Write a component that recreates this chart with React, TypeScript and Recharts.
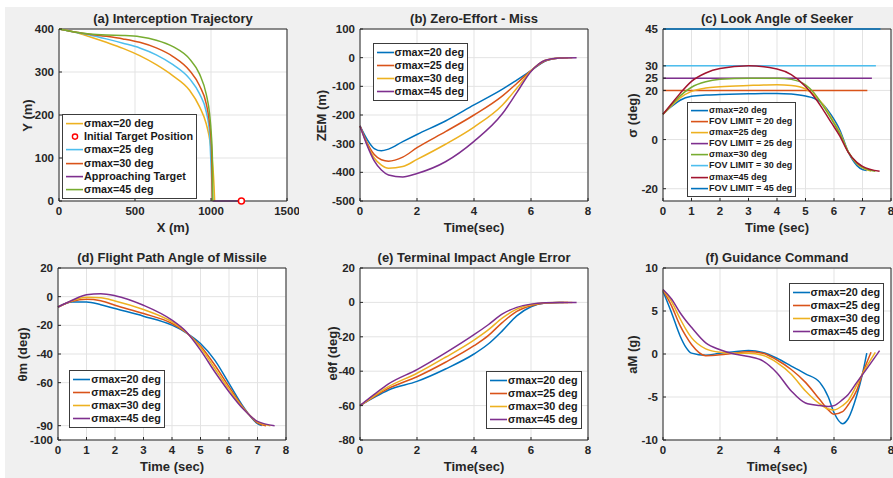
import { LineChart, Line, XAxis, YAxis, CartesianGrid, Legend, ReferenceLine } from 'recharts'

const FONT = '"Liberation Sans", Arial, Helvetica, sans-serif'
const AXIS = '#262626'
const GRID = '#e3e3e3'

// MATLAB default line colours
const BLUE = '#0072BD'
const ORANGE = '#D95319'
const YELLOW = '#EDB120'
const PURPLE = '#7E2F8E'
const GREEN = '#77AC30'
const CYAN = '#4DBEEE'
const WINE = '#A2142F'

const SIGMA = ['σmax=20 deg', 'σmax=25 deg', 'σmax=30 deg', 'σmax=45 deg']
const END_T = [7.15, 7.3, 7.45, 7.6]

// (a) trajectories, X (m) / Y (m)
const TRAJ_X20 = [0, 114, 202, 311, 421, 531, 640, 750, 860, 925, 969, 996, 1013, 1020, 1024]
const TRAJ_Y20 = [400, 392, 382, 369, 355, 338, 317, 291, 257, 219, 179, 133, 78, 35, 0]
const TRAJ_X25 = [0, 114, 202, 311, 421, 531, 640, 750, 860, 925, 969, 991, 998, 1005, 1010]
const TRAJ_Y25 = [400, 392, 386, 377, 367, 356, 340, 317, 284, 249, 207, 156, 102, 50, 0]
const TRAJ_X30 = [0, 114, 202, 311, 421, 531, 640, 750, 860, 925, 969, 991, 1002, 1006, 1008]
const TRAJ_Y30 = [400, 392.5, 388, 383, 377, 369, 356, 336, 303, 268, 226, 179, 133, 70, 0]
const TRAJ_X45 = [0, 114, 202, 311, 421, 531, 640, 750, 860, 925, 969, 991, 1002, 1009, 1012]
const TRAJ_Y45 = [400, 392.5, 388.5, 386, 385, 382, 374, 359, 330, 295, 248, 202, 156, 102, 0]
const TARGET_X = [1010, 1200]
const TARGET_Y = [0, 0]
const TARGET_START_X = [1200]
const TARGET_START_Y = [0]

// (b) zero-effort miss (m)
const ZEM_T = [0, 0.25, 0.5, 0.75, 1, 1.5, 2, 3, 4, 5, 5.5, 6, 6.5, 7]
const ZEM_20 = [-238, -285, -317, -325, -319, -293, -268, -221, -165, -110, -78, -45, -12, -1]
const ZEM_25 = [-238, -297, -338, -356, -361, -347, -314, -258, -200, -133, -90, -45, -11, -1]
const ZEM_30 = [-238, -302, -350, -375, -386, -380, -355, -302, -242, -165, -107, -46, -9, -1]
const ZEM_45 = [-238, -306, -360, -392, -409, -416, -404, -363, -292, -195, -122, -48, -9, -1]
const ZEM_END = [0, 0, 0, 0]

// (c) look angle of seeker (deg)
const LOOK_T = [0, 0.3, 0.6, 1, 1.5, 2, 3, 4, 4.5, 5, 5.3, 5.6, 5.9, 6.2, 6.5, 6.8, 7]
const LOOK_20 = [10.3, 13.5, 16, 17.6, 18.1, 18.3, 18.6, 18.8, 18.5, 17.7, 16.8, 14.5, 10, 4, -5, -10.5, -12.2]
const LOOK_25 = [10.3, 13.8, 17, 19.6, 21, 21.5, 22, 22.3, 22, 20.6, 18.3, 14.5, 9, 3, -5, -9.8, -11.5]
const LOOK_30 = [10.3, 14.2, 17.8, 21.3, 23.5, 24.5, 25, 25, 24.5, 22.3, 19, 14, 8.5, 2.5, -5, -9.5, -11.2]
const LOOK_45 = [10.3, 14.6, 18.8, 23.7, 27.1, 28.9, 30, 28.7, 26.4, 21.6, 17.5, 12.5, 7, 1.5, -5.2, -9.3, -10.9]
const LOOK_END = [-12.6, -12.8, -12.9, -12.9]
const FOV_LIMIT = [20, 25, 30, 45]
const FOV_END_T = [7.17, 7.33, 7.47, 7.63]

// (d) flight path angle of missile (deg)
const FPA_T = [0, 0.5, 1, 1.5, 2, 3, 4, 4.5, 5, 5.5, 6, 6.5, 7]
const FPA_20 = [-7.2, -3.7, -3.7, -5.6, -8.3, -13.6, -19.9, -25.2, -32.7, -44.3, -60.5, -76.7, -88.6]
const FPA_25 = [-7.2, -3.2, -1.8, -2.8, -6, -11.8, -18.7, -25, -34.5, -47.7, -62.8, -77.4, -88]
const FPA_30 = [-7.2, -2.8, -0.4, -0.8, -3, -9, -17.6, -24.8, -35.5, -50.1, -64.5, -77.9, -87.4]
const FPA_45 = [-7.2, -2.5, 1.4, 2.1, 0.7, -6, -16.4, -24.5, -37.3, -52.4, -66.3, -78.4, -87]
const FPA_END = [-90, -90, -90, -90]

// (e) terminal impact angle error (deg)
const IAE_T = [0, 0.5, 1, 2, 3, 4, 4.5, 5, 5.5, 6, 6.5, 7]
const IAE_20 = [-60, -55.2, -50.9, -45.9, -38.7, -30, -24.2, -16.4, -7.8, -2.5, -0.4, 0]
const IAE_25 = [-60, -54.7, -50, -43.2, -34.8, -25.2, -19.3, -11.6, -5.2, -1.9, -0.3, 0]
const IAE_30 = [-60, -54.3, -49, -41.2, -31.9, -21.9, -16, -9, -3.9, -1.4, -0.2, 0]
const IAE_45 = [-60, -53.5, -47.4, -39.1, -29.4, -18.8, -13, -6.7, -2.9, -1, -0.2, 0]
const IAE_END = [0, 0, 0, 0]

// (f) guidance command (g)
const CMD_T = [0, 0.3, 0.6, 0.8, 1, 1.5, 2, 2.5, 3, 3.5, 4, 4.5, 5, 5.5, 5.8, 6, 6.3, 6.5, 6.8, 7]
const CMD_20 = [7.3, 4.8, 2.1, 0.8, 0.1, -0.15, 0.1, 0.25, 0.4, 0.17, -0.5, -1.4, -2.3, -3.3, -5, -6.8, -8.1, -7.5, -4.8, -2.3]
const CMD_25 = [7.4, 5.6, 3.3, 2.1, 1.1, -0.2, -0.1, 0.1, 0.25, 0.1, -0.7, -1.8, -3.3, -5.3, -6.5, -7, -6.7, -5.9, -4.2, -2.3]
const CMD_30 = [7.45, 6.1, 4.1, 2.9, 1.9, 0.6, 0.2, 0.1, 0.1, -0.15, -1, -2.35, -4.3, -5.8, -6.4, -6.5, -6, -5.4, -3.6, -2.3]
const CMD_45 = [7.5, 6.4, 4.8, 3.9, 3.1, 1.3, 0.5, 0, -0.3, -0.8, -2.2, -4.3, -5.7, -6, -6.1, -6, -5.3, -4.7, -3.3, -2.4]
const CMD_END = [0.1, 0.2, 0.2, 0.4]

type Pt = { x: number; y: number }
type Series = { name: string; color: string; data: Pt[]; marker?: boolean }

const zip = (xs: number[], ys: number[]): Pt[] => xs.map((x, i) => ({ x, y: ys[i] }))
// time series plus its own end point
const run = (ts: number[], ys: number[], endT: number, endY: number): Pt[] => [...zip(ts, ys), { x: endT, y: endY }]

const PLOT_W = 228
const PLOT_H = 172
const M_LEFT = 58
const M_TOP = 29
const M_RIGHT = 12
const M_BOTTOM = 40

const tickStyle = { fontSize: 11.5, fontWeight: 700, fill: AXIS, fontFamily: FONT }

interface LegendSpec {
  x: number
  y: number
  font: number
  row: number
}

interface PanelProps {
  px: number
  py: number
  title: string
  xLabel: string
  yLabel: string
  yLabelDx: number
  xDomain: [number, number]
  xTicks: number[]
  yDomain: [number, number]
  yTicks: number[]
  series: Series[]
  legend: LegendSpec
}

function LegendBox({ payload, series, spec }: { payload: any[]; series: Series[]; spec: LegendSpec }) {
  const order = (name: string) => series.findIndex(s => s.name === name)
  const items = [...(payload ?? [])].sort((a, b) => order(a.value) - order(b.value))
  return (
    <div
      style={{
        display: 'inline-block',
        background: '#fff',
        border: '1px solid #3c3c3c',
        padding: '2px 3px 2px 2px',
        font: `700 ${spec.font}px ${FONT}`,
        color: '#1a1a1a',
        lineHeight: `${spec.row}px`,
      }}
    >
      {items.map(it => (
        <div key={it.value} style={{ display: 'flex', alignItems: 'center', height: spec.row, whiteSpace: 'nowrap' }}>
          <svg width={19} height={spec.row} style={{ flex: 'none' }}>
            {it.type === 'circle' ? (
              <circle cx={10} cy={spec.row / 2} r={2.6} fill="#fff" stroke={it.color} strokeWidth={1.4} />
            ) : (
              <line x1={1} x2={18} y1={spec.row / 2} y2={spec.row / 2} stroke={it.color} strokeWidth={1.6} />
            )}
          </svg>
          <span>{it.value}</span>
        </div>
      ))}
    </div>
  )
}

function Panel(p: PanelProps) {
  const left = p.px - M_LEFT
  const top = p.py - M_TOP
  const label = { position: 'absolute' as const, font: `700 13px ${FONT}`, color: AXIS, textAlign: 'center' as const, lineHeight: '15px', whiteSpace: 'nowrap' as const }
  return (
    <>
      <div style={{ position: 'absolute', left, top }}>
        <LineChart
          width={M_LEFT + PLOT_W + M_RIGHT}
          height={M_TOP + PLOT_H + M_BOTTOM}
          margin={{ top: M_TOP, right: M_RIGHT, bottom: 0, left: 0 }}
        >
          <CartesianGrid stroke={GRID} fill="#ffffff" fillOpacity={1} />
          <XAxis
            type="number"
            dataKey="x"
            domain={p.xDomain}
            ticks={p.xTicks}
            interval={0}
            height={M_BOTTOM}
            tickSize={-3}
            tickMargin={8.5}
            tick={tickStyle}
            stroke={AXIS}
          />
          <YAxis
            type="number"
            domain={p.yDomain}
            ticks={p.yTicks}
            interval={0}
            width={M_LEFT}
            tickSize={-3}
            tickMargin={8}
            tick={tickStyle}
            stroke={AXIS}
          />
          <ReferenceLine x={p.xDomain[1]} stroke={AXIS} />
          <ReferenceLine y={p.yDomain[1]} stroke={AXIS} />
          {p.series.map(s => (
            <Line
              key={s.name}
              data={s.data}
              dataKey="y"
              name={s.name}
              type="monotone"
              stroke={s.color}
              strokeWidth={1.5}
              dot={s.marker ? { r: 3, stroke: s.color, strokeWidth: 1.5, fill: '#fff' } : false}
              activeDot={false}
              legendType={s.marker ? 'circle' : 'line'}
              isAnimationActive={false}
            />
          ))}
          <Legend
            layout="vertical"
            align="center"
            verticalAlign="middle"
            wrapperStyle={{ left: p.legend.x - left, top: p.legend.y - top, width: 'auto', height: 'auto' }}
            content={(props: any) => <LegendBox payload={props.payload} series={p.series} spec={p.legend} />}
          />
        </LineChart>
      </div>
      <div style={{ ...label, left: p.px, top: p.py - 18, width: PLOT_W }}>{p.title}</div>
      <div style={{ ...label, left: p.px, top: p.py + PLOT_H + 19, width: PLOT_W }}>{p.xLabel}</div>
      <div
        style={{
          ...label,
          left: p.px + p.yLabelDx - 80,
          top: p.py + PLOT_H / 2 - 7.5,
          width: 160,
          height: 15,
          transform: 'rotate(-90deg)',
        }}
      >
        {p.yLabel}
      </div>
    </>
  )
}

const sigmaSeries = (ts: number[], rows: number[][], ends: number[], colors: string[]): Series[] =>
  rows.map((ys, i) => ({ name: SIGMA[i], color: colors[i], data: run(ts, ys, END_T[i], ends[i]) }))

const STD = [BLUE, ORANGE, YELLOW, PURPLE]
const T_TICKS2 = [0, 2, 4, 6, 8]
const T_TICKS1 = [0, 1, 2, 3, 4, 5, 6, 7, 8]

export default function App() {
  const seriesA: Series[] = [
    { name: SIGMA[0], color: YELLOW, data: zip(TRAJ_X20, TRAJ_Y20) },
    { name: 'Initial Target Position', color: '#ff0000', data: zip(TARGET_START_X, TARGET_START_Y), marker: true },
    { name: SIGMA[1], color: CYAN, data: zip(TRAJ_X25, TRAJ_Y25) },
    { name: SIGMA[2], color: ORANGE, data: zip(TRAJ_X30, TRAJ_Y30) },
    { name: 'Approaching Target', color: PURPLE, data: zip(TARGET_X, TARGET_Y) },
    { name: SIGMA[3], color: GREEN, data: zip(TRAJ_X45, TRAJ_Y45) },
  ]

  const lookRows = [LOOK_20, LOOK_25, LOOK_30, LOOK_45]
  const lookColors = [BLUE, YELLOW, GREEN, WINE]
  const fovColors = [ORANGE, PURPLE, CYAN, BLUE]
  const seriesC: Series[] = []
  lookRows.forEach((ys, i) => {
    seriesC.push({ name: SIGMA[i], color: lookColors[i], data: run(LOOK_T, ys, END_T[i], LOOK_END[i]) })
    seriesC.push({
      name: `FOV LIMIT = ${FOV_LIMIT[i]} deg`,
      color: fovColors[i],
      data: zip([0, FOV_END_T[i]], [FOV_LIMIT[i], FOV_LIMIT[i]]),
    })
  })

  return (
    <div style={{ position: 'absolute', left: 0, top: 0, width: 893, height: 478, overflow: 'hidden', background: '#ffffff' }}>
      <div style={{ position: 'absolute', left: 5, top: 7, right: 0, bottom: 0, background: '#f0f0f0' }} />
      <Panel
        px={59}
        py={29}
        title="(a) Interception Trajectory"
        xLabel="X (m)"
        yLabel="Y (m)"
        yLabelDx={-32}
        xDomain={[0, 1500]}
        xTicks={[0, 500, 1000, 1500]}
        yDomain={[0, 400]}
        yTicks={[0, 100, 200, 300, 400]}
        series={seriesA}
        legend={{ x: 62, y: 114, font: 10.8, row: 13.2 }}
      />
      <Panel
        px={360}
        py={29}
        title="(b) Zero-Effort - Miss"
        xLabel="Time(sec)"
        yLabel="ZEM (m)"
        yLabelDx={-39.5}
        xDomain={[0, 8]}
        xTicks={T_TICKS2}
        yDomain={[-500, 100]}
        yTicks={[-500, -400, -300, -200, -100, 0, 100]}
        series={sigmaSeries(ZEM_T, [ZEM_20, ZEM_25, ZEM_30, ZEM_45], ZEM_END, STD)}
        legend={{ x: 372.5, y: 42.5, font: 10.8, row: 13 }}
      />
      <Panel
        px={663}
        py={29}
        title="(c) Look Angle of Seeker"
        xLabel="Time (sec)"
        yLabel="σ (deg)"
        yLabelDx={-31.5}
        xDomain={[0, 8]}
        xTicks={T_TICKS1}
        yDomain={[-25, 45]}
        yTicks={[-20, 0, 20, 25, 30, 45]}
        series={seriesC}
        legend={{ x: 687, y: 101.5, font: 9, row: 11.2 }}
      />
      <Panel
        px={58}
        py={268}
        title="(d) Flight Path Angle of Missile"
        xLabel="Time (sec)"
        yLabel="θm (deg)"
        yLabelDx={-36.5}
        xDomain={[0, 8]}
        xTicks={T_TICKS1}
        yDomain={[-100, 20]}
        yTicks={[-100, -90, -60, -40, -20, 0, 20]}
        series={sigmaSeries(FPA_T, [FPA_20, FPA_25, FPA_30, FPA_45], FPA_END, STD)}
        legend={{ x: 69.3, y: 369.5, font: 10.8, row: 13 }}
      />
      <Panel
        px={360}
        py={267.5}
        title="(e) Terminal Impact Angle Error"
        xLabel="Time(sec)"
        yLabel="eθf (deg)"
        yLabelDx={-28.5}
        xDomain={[0, 8]}
        xTicks={T_TICKS2}
        yDomain={[-80, 20]}
        yTicks={[-80, -60, -40, -20, 0, 20]}
        series={sigmaSeries(IAE_T, [IAE_20, IAE_25, IAE_30, IAE_45], IAE_END, STD)}
        legend={{ x: 486, y: 370.5, font: 10.8, row: 13 }}
      />
      <Panel
        px={663}
        py={268}
        title="(f) Guidance Command"
        xLabel="Time(sec)"
        yLabel="aM (g)"
        yLabelDx={-31.5}
        xDomain={[0, 8]}
        xTicks={T_TICKS2}
        yDomain={[-10, 10]}
        yTicks={[-10, -5, 0, 5, 10]}
        series={sigmaSeries(CMD_T, [CMD_20, CMD_25, CMD_30, CMD_45], CMD_END, STD)}
        legend={{ x: 788.5, y: 282.5, font: 10.8, row: 13 }}
      />
    </div>
  )
}
